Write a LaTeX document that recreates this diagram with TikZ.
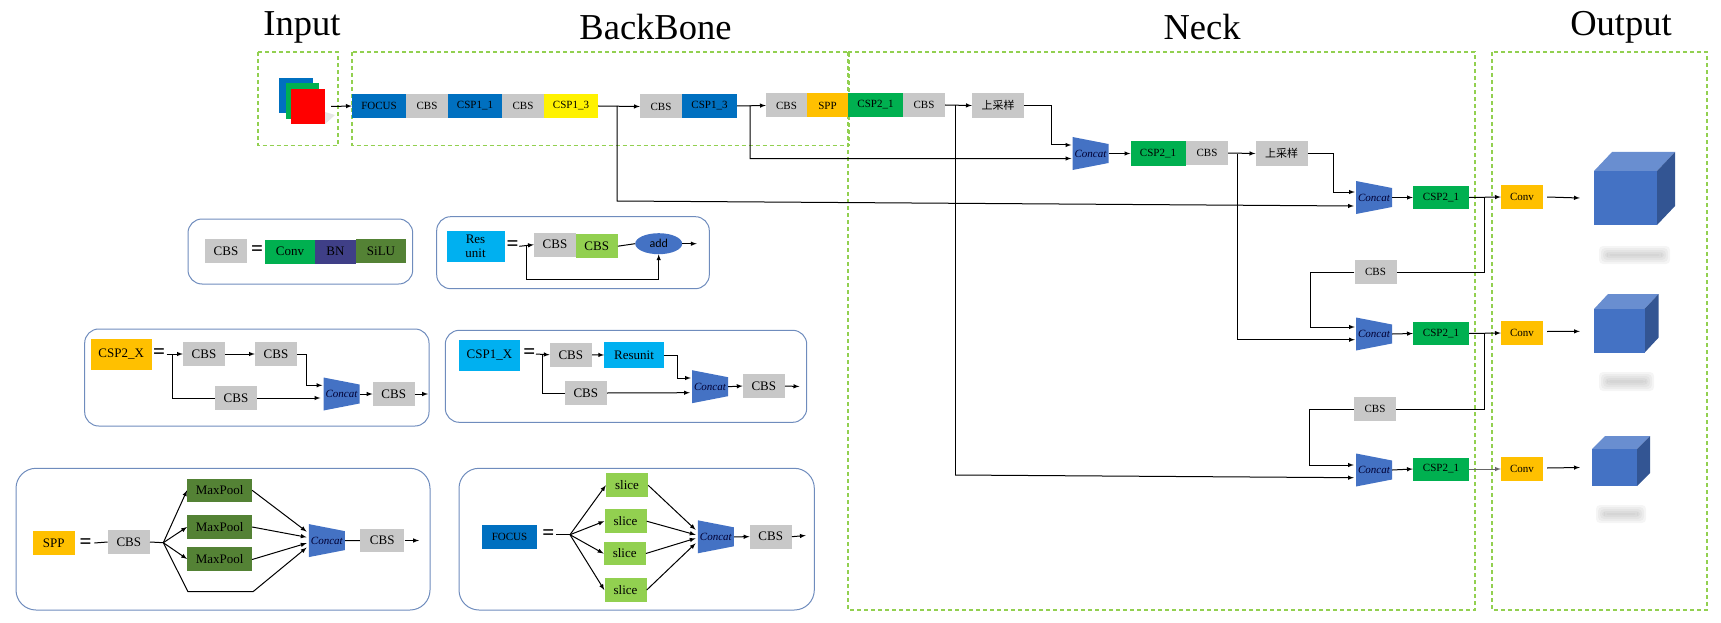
\documentclass[tikz,border=0pt]{standalone}
\usepackage{fontspec}
\setmainfont{Liberation Serif}
\newfontfamily\cjk{Noto Sans CJK SC}
\newfontfamily\addfont{Carlito}
\usetikzlibrary{shapes.geometric}

\definecolor{stagegray}{HTML}{C8C8C8}
\definecolor{stageblue}{HTML}{0070C0}
\definecolor{stagegreen}{HTML}{00B050}
\definecolor{stagegold}{HTML}{FFC000}
\definecolor{stagecyan}{HTML}{00B0F0}
\definecolor{stagelime}{HTML}{92D050}
\definecolor{stageolive}{HTML}{548235}
\definecolor{stagepurple}{HTML}{3F3F87}
\definecolor{concatblue}{HTML}{4472C4}
\definecolor{panelline}{HTML}{6F8CBD}

\tikzset{
    stagebox/.style={minimum width=42pt, minimum height=24pt, inner sep=0pt, font=\fontsize{11}{11}\selectfont},
    legendbox/.style={stagebox, font=\fontsize{13}{14}\selectfont},
    concatbox/.style={minimum width=36pt, minimum height=33pt, inner sep=0pt, text=black!80!blue, font=\fontsize{11}{11}\selectfont\itshape,
        path picture={\fill[concatblue] (path picture bounding box.north west) -- ([yshift=-7pt]path picture bounding box.north east)
            -- ([yshift=7pt]path picture bounding box.south east) -- (path picture bounding box.south west) -- cycle;}},
    regionbox/.style={draw=stagelime, dash pattern=on 4pt off 3pt, line width=1.1pt},
    panelbox/.style={draw=panelline, line width=1pt, rounded corners=14pt},
    titletext/.style={font=\fontsize{36.5}{40}\selectfont},
    eqsign/.style={inner sep=0pt, font=\fontsize{21}{21}\selectfont\bfseries},
    flow/.style={line width=1pt},
    flowto/.style={flow, -latex},
}

% front face, then the top and side faces
\newcommand{\cubeblock}[7]{
    \fill[concatblue!80!white] (#2,#4) -- ++(#6,-#7) -- (#3+#6,#4-#7) -- (#3,#4) -- cycle;
    \fill[concatblue!75!black] (#3,#4) -- (#3+#6,#4-#7) -- (#3+#6,#5-#7) -- (#3,#5) -- cycle;
    \node[fill=concatblue, inner sep=0pt, minimum width=#3pt-#2pt, minimum height=#5pt-#4pt] (#1) at ({(#2+#3)/2},{(#4+#5)/2}) {};
}
\newcommand{\smudge}[4]{
    \foreach \w in {8,6,4,2,0}
        \fill[gray, opacity=0.08, rounded corners=4pt] (#1-\w,#3-\w) rectangle (#2+\w,#4+\w);
}

\begin{document}
\begin{tikzpicture}[x=1pt, y=-1pt]
    \useasboundingbox (0,0) rectangle (1721,623);

    % titles
    \node[titletext] (inputtitle) at (302,27) {Input};
    \node[titletext] (backbonetitle) at (655.5,27) {BackBone};
    \node[titletext] (necktitle) at (1202,27) {Neck};
    \node[titletext] (outputtitle) at (1621,27) {Output};

    % regions
    \draw[regionbox] (258,52) rectangle (338,145.5);
    \draw[regionbox] (352,52) rectangle (849,145.5);
    \draw[regionbox] (848,52) rectangle (1475,610);
    \draw[regionbox] (1492,52) rectangle (1707,610);

    % input
    \fill[gray, opacity=0.2] (325,112) -- (335,115) -- (325,124) -- cycle;
    \node[fill=stageblue, minimum width=34pt, minimum height=35pt, inner sep=0pt] (inblue) at (296,95.5) {};
    \node[fill=stagegreen, minimum width=33pt, minimum height=36pt, inner sep=0pt] (ingreen) at (302.5,101) {};
    \node[fill=red, minimum width=34pt, minimum height=35pt, inner sep=0pt] (inred) at (308,106.5) {};

    % backbone row
    \node[stagebox, fill=stageblue, minimum width=54pt] (focus) at (379,106) {FOCUS};
    \node[stagebox, fill=stagegray] (cbsa) at (427,106) {CBS};
    \node[stagebox, fill=stageblue, minimum width=54pt] (cspa) at (475,106) {CSP1\_1};
    \node[stagebox, fill=stagegray] (cbsb) at (523,106) {CBS};
    \node[stagebox, fill=yellow, minimum width=54pt] (cspb) at (571,106) {CSP1\_3};
    \node[stagebox, fill=stagegray] (cbsc) at (661,106.5) {CBS};
    \node[stagebox, fill=stageblue, minimum width=55pt] (cspc) at (709.5,106) {CSP1\_3};
    \node[stagebox, fill=stagegray, minimum width=41pt] (cbsd) at (786.5,105.5) {CBS};
    \node[stagebox, fill=stagegold, minimum width=41pt] (spp) at (827.5,105.5) {SPP};
    \node[stagebox, fill=stagegreen, minimum width=55pt] (cspd) at (875.5,105) {CSP2\_1};
    \node[stagebox, fill=stagegray] (cbse) at (924,105) {CBS};
    \node[stagebox, fill=stagegray, minimum width=52pt, minimum height=25pt] (upa) at (998,105.5) {\cjk 上采样};

    \draw[flowto] ([xshift=6pt]inred.east) -- (focus.west);
    \draw[flowto] (cspb.east) -- (cbsc.west);
    \draw[flowto] (cspc.east) -- (cbsd.west);
    \draw[flowto] (cbse.east) -- (upa.west);

    % neck
    \node[concatbox] (concata) at (1090.5,153.5) {Concat};
    \node[stagebox, fill=stagegreen, minimum width=55pt] (cspe) at (1158,153.5) {CSP2\_1};
    \node[stagebox, fill=stagegray] (cbsf) at (1207,153) {CBS};
    \node[stagebox, fill=stagegray, minimum width=52pt, minimum height=25pt] (upb) at (1281.5,153.5) {\cjk 上采样};
    \node[concatbox] (concatb) at (1374,197.5) {Concat};
    \node[stagebox, fill=stagegreen, minimum width=56pt, minimum height=23pt] (cspf) at (1441,197.5) {CSP2\_1};
    \node[stagebox, fill=stagegray] (cbsg) at (1375.5,272) {CBS};
    \node[concatbox] (concatc) at (1374,334) {Concat};
    \node[stagebox, fill=stagegreen, minimum width=56pt, minimum height=23pt] (cspg) at (1441,333.5) {CSP2\_1};
    \node[stagebox, fill=stagegray] (cbsh) at (1375,409) {CBS};
    \node[concatbox] (concatd) at (1374,470) {Concat};
    \node[stagebox, fill=stagegreen, minimum width=56pt, minimum height=23pt] (csph) at (1441,469) {CSP2\_1};

    \coordinate (tapa) at (617,106);
    \coordinate (benda) at (617,201);
    \coordinate (tapb) at (750,105.5);
    \coordinate (bendb) at (750,158.7);
    \coordinate (tapc) at (955,105);
    \coordinate (bendc) at (955,475);
    \coordinate (tapd) at (1237,153.5);
    \coordinate (bendd) at (1237,339.7);
    \coordinate (turna) at (1051,145);
    \coordinate (turnb) at (1333,192);
    \coordinate (turnc) at (1310,327);
    \coordinate (turnd) at (1309,465);
    \coordinate (tape) at (1484,197);
    \coordinate (tapf) at (1484,333);

    \draw[flowto] (tapa) -- (benda) -- ([xshift=-2pt,yshift=-8.5pt]concatb.west);
    \draw[flowto] (tapb) -- (bendb) -- ([xshift=-1pt,yshift=-5pt]concata.west);
    \draw[flow, line width=0.8pt] (tapc) -- (bendc);
    \draw[flowto] (bendc) -- ([xshift=-2pt,yshift=-7.7pt]concatd.west);
    \draw[flow, line width=0.8pt] (tapd) -- (bendd);
    \draw[flowto] (bendd) -- ([xshift=-1pt,yshift=-5.7pt]concatc.west);
    \draw[flowto] (upa.east) -| (turna) -- ([xshift=-1pt,yshift=8.5pt]concata.west);
    \draw[flowto] (upb.east) -| (turnb) -- ([xshift=-1pt,yshift=5.5pt]concatb.west);
    \draw[flowto] (concata.east) -- (cspe.west);
    \draw[flowto] (cbsf.east) -- (upb.west);
    \draw[flowto] (concatb.east) -- (cspf.west);
    \draw[flowto] (concatc.east) -- (cspg.west);
    \draw[flowto] (concatd.east) -- (csph.west);
    \draw[flow] (tape) |- (cbsg.east);
    \draw[flow] (tapf) |- (cbsh.east);
    \draw[flowto] (cbsg.west) -| (turnc) -- ([xshift=-1pt,yshift=7pt]concatc.west);
    \draw[flowto] (cbsh.west) -| (turnd) -- ([xshift=-2pt,yshift=5pt]concatd.west);

    % output
    \node[stagebox, fill=stagegold] (conva) at (1522,197) {Conv};
    \node[stagebox, fill=stagegold] (convb) at (1522,333) {Conv};
    \node[stagebox, fill=stagegold] (convc) at (1522,469) {Conv};
    \cubeblock{cubea}{1594}{1657}{171}{225}{18}{19}
    \cubeblock{cubeb}{1594}{1644.5}{309}{352.7}{14}{15}
    \cubeblock{cubec}{1592}{1637}{449}{486}{13}{13}
    \smudge{1607}{1662}{254}{256}
    \smudge{1607}{1646}{380}{383}
    \smudge{1604}{1638}{513}{515}

    \draw[flowto] (cspf.east) -- (conva.west);
    \draw[flowto] (cspg.east) -- (convb.west);
    \draw[flowto, black!60] (csph.east) -- (convc.west);
    \draw[flowto] ([xshift=4pt]conva.east) -- ([xshift=-14pt]cubea.west);
    \draw[flowto] ([xshift=4pt,yshift=1.5pt]convb.east) -- ([xshift=-14pt,yshift=-0.5pt]cubeb.west);
    \draw[flowto] ([xshift=4pt,yshift=1pt]convc.east) -- ([xshift=-12pt]cubec.west);

    % legend panels
    \draw[panelbox] (188,219) rectangle (412.7,284);
    \draw[panelbox] (436.7,216.7) rectangle (709.3,288.7);
    \draw[panelbox] (84.7,329) rectangle (429,426);
    \draw[panelbox] (445.3,330.3) rectangle (806.7,422.3);
    \draw[panelbox, rounded corners=20pt] (16,468.3) rectangle (430,610);
    \draw[panelbox, rounded corners=20pt] (459,468.3) rectangle (814.3,610);

    % CBS legend
    \node[legendbox, fill=stagegray] (cbsleg) at (226,251) {CBS};
    \node[eqsign] (eqa) at (257,251) {=};
    \node[legendbox, fill=stagegreen, minimum width=50pt] (convleg) at (290,251.7) {Conv};
    \node[legendbox, fill=stagepurple, minimum width=41pt] (bnleg) at (335.5,251.7) {BN};
    \node[legendbox, fill=stageolive, minimum width=50pt, minimum height=23.5pt] (siluleg) at (381,251.2) {SiLU};

    % Res unit legend
    \node[legendbox, fill=stagecyan, minimum width=58pt, minimum height=31pt, align=center] (resleg) at (475.5,246.3) {Res\\unit};
    \node[eqsign] (eqb) at (512.7,246) {=};
    \node[legendbox, fill=stagegray] (cbsresa) at (555,244.7) {CBS};
    \node[legendbox, fill=stagelime] (cbsresb) at (596.7,246.2) {CBS};
    \node[ellipse, fill=concatblue, minimum width=47pt, minimum height=21pt, inner sep=0pt, font=\addfont\fontsize{12}{12}\selectfont] (addleg) at (658.7,243.7) {add};
    \coordinate (resin) at (519.3,246.3);
    \coordinate (restap) at (526,246.3);
    \coordinate (resturn) at (526,279.3);
    \coordinate (resout) at (696.7,243.7);
    \draw[flowto] (resin) -- (cbsresa.west);
    \draw[flow] (cbsresb.east) -- (addleg.west);
    \draw[flowto] (addleg.east) -- (resout);
    \draw[flowto] (restap) -- (resturn) -| (addleg.south);

    % CSP2 legend
    \node[legendbox, fill=stagegold, minimum width=61pt, minimum height=31pt] (cspbleg) at (121.2,354.5) {CSP2\_X};
    \node[eqsign] (eqc) at (159,353.7) {=};
    \node[legendbox, fill=stagegray] (cbsba) at (204,354) {CBS};
    \node[legendbox, fill=stagegray] (cbsbb) at (276,354) {CBS};
    \node[legendbox, fill=stagegray] (cbsbc) at (236,398) {CBS};
    \node[concatbox] (concatleb) at (341.5,394) {Concat};
    \node[legendbox, fill=stagegray] (cbsbd) at (393.7,394) {CBS};
    \coordinate (cspbin) at (166.7,354);
    \coordinate (cspbtap) at (172.7,354);
    \coordinate (cspbturn) at (172.7,398);
    \coordinate (cspbbend) at (306.7,385.3);
    \coordinate (cspbout) at (428,394);
    \draw[flowto] (cspbin) -- (cbsba.west);
    \draw[flowto] (cbsba.east) -- (cbsbb.west);
    \draw[flowto] (cbsbb.east) -| (cspbbend) -- ([xshift=-1pt,yshift=8.7pt]concatleb.west);
    \draw[flow] (cspbtap) -- (cspbturn) -- (cbsbc.west);
    \draw[flowto] (cbsbc.east) -- ([xshift=-3pt,yshift=-4pt]concatleb.west);
    \draw[flowto] (concatleb.east) -- (cbsbd.west);
    \draw[flowto] (cbsbd.east) -- (cspbout);

    % CSP1 legend
    \node[legendbox, fill=stagecyan, minimum width=61pt, minimum height=31pt] (cspaleg) at (489.5,355.2) {CSP1\_X};
    \node[eqsign] (eqd) at (529.3,353.7) {=};
    \node[legendbox, fill=stagegray] (cbsaa) at (570.8,354.8) {CBS};
    \node[legendbox, fill=stagecyan, minimum width=59.4pt, minimum height=25.4pt] (resunit) at (634,355) {Resunit};
    \node[legendbox, fill=stagegray] (cbsab) at (585.8,393) {CBS};
    \node[concatbox] (concatlea) at (710,386.7) {Concat};
    \node[legendbox, fill=stagegray] (cbsac) at (763.8,386) {CBS};
    \coordinate (cspain) at (536,354);
    \coordinate (cspatap) at (542.7,354);
    \coordinate (cspaturn) at (542.7,393);
    \coordinate (cspabend) at (677,378);
    \coordinate (cspaout) at (799.3,386.5);
    \draw[flowto] (cspain) -- (cbsaa.west);
    \draw[flowto] (cbsaa.east) -- (resunit.west);
    \draw[flowto] (resunit.east) -| (cspabend) -- ([xshift=-1pt,yshift=8.7pt]concatlea.west);
    \draw[flow] (cspatap) -- (cspaturn) -- (cbsab.west);
    \draw[flowto] (cbsab.east) -- ([xshift=-2pt,yshift=-6pt]concatlea.west);
    \draw[flowto] (concatlea.east) -- (cbsac.west);
    \draw[flowto] (cbsac.east) -- (cspaout);

    % SPP legend
    \node[legendbox, fill=stagegold] (sppleg) at (53.8,543) {SPP};
    \node[eqsign] (eqe) at (85.7,543.7) {=};
    \node[legendbox, fill=stagegray] (cbspa) at (128.8,542) {CBS};
    \node[legendbox, fill=stageolive, minimum width=64.7pt, minimum height=23.4pt] (poola) at (219.6,490.3) {MaxPool};
    \node[legendbox, fill=stageolive, minimum width=64.7pt, minimum height=23.4pt] (poolb) at (219.6,527) {MaxPool};
    \node[legendbox, fill=stageolive, minimum width=64.7pt, minimum height=23.4pt] (poolc) at (219.6,559) {MaxPool};
    \node[concatbox] (concatlec) at (326.8,540.6) {Concat};
    \node[legendbox, fill=stagegray, minimum width=44.3pt, minimum height=23pt] (cbspb) at (382.2,540.5) {CBS};
    \coordinate (sppin) at (94.3,543);
    \coordinate (spphub) at (163.3,542.7);
    \coordinate (sppbenda) at (188,591.7);
    \coordinate (sppbendb) at (253,591.7);
    \coordinate (sppout) at (419,540.5);
    \draw[flow] (sppin) -- (cbspa.west);
    \draw[flow] (cbspa.east) -- (spphub);
    \draw[flowto] (spphub) -- (poola.west);
    \draw[flowto] (spphub) -- (poolb.west);
    \draw[flowto] (spphub) -- (poolc.west);
    \draw[flowto] (spphub) -- (sppbenda) -- (sppbendb) -- ([xshift=-2pt,yshift=-7pt]concatlec.west);
    \draw[flowto] (poola.east) -- ([xshift=-2pt,yshift=9pt]concatlec.west);
    \draw[flowto] (poolb.east) -- ([xshift=-2pt,yshift=3.4pt]concatlec.west);
    \draw[flowto] ([yshift=-0.5pt]poolc.east) -- ([xshift=-2pt,yshift=-2.6pt]concatlec.west);
    \draw[flow] (concatlec.east) -- (cbspb.west);
    \draw[flowto] (cbspb.east) -- (sppout);

    % FOCUS legend
    \node[legendbox, fill=stageblue, minimum width=55.6pt, font=\fontsize{11}{11}\selectfont] (focusleg) at (509.5,536.7) {FOCUS};
    \node[eqsign] (eqf) at (548.3,535) {=};
    \node[legendbox, fill=stagelime] (slicea) at (627,485.3) {slice};
    \node[legendbox, fill=stagelime, minimum height=23.7pt] (sliceb) at (625.5,521.2) {slice};
    \node[legendbox, fill=stagelime, minimum height=23pt] (slicec) at (624.7,553.5) {slice};
    \node[legendbox, fill=stagelime] (sliced) at (625.5,590) {slice};
    \node[concatbox] (concatled) at (715.8,536.8) {Concat};
    \node[legendbox, fill=stagegray] (cbsfa) at (770.7,536.7) {CBS};
    \coordinate (focusin) at (556,534.7);
    \coordinate (focushub) at (570,534.7);
    \coordinate (focusout) at (805.7,535.5);
    \draw[flow] (focusin) -- (focushub);
    \draw[flowto] (focushub) -- (slicea.west);
    \draw[flowto] (focushub) -- (sliceb.west);
    \draw[flowto] (focushub) -- (slicec.west);
    \draw[flowto] (focushub) -- (sliced.west);
    \draw[flowto] (slicea.east) -- ([xshift=-2pt,yshift=7pt]concatled.west);
    \draw[flowto] (sliceb.east) -- ([xshift=-2pt,yshift=2pt]concatled.west);
    \draw[flowto] (slicec.east) -- ([xshift=-2pt,yshift=-1.5pt]concatled.west);
    \draw[flowto] (sliced.east) -- ([xshift=-2pt,yshift=-6.5pt]concatled.west);
    \draw[flowto] (concatled.east) -- (cbsfa.west);
    \draw[flowto] (cbsfa.east) -- (focusout);
\end{tikzpicture}
\end{document}
